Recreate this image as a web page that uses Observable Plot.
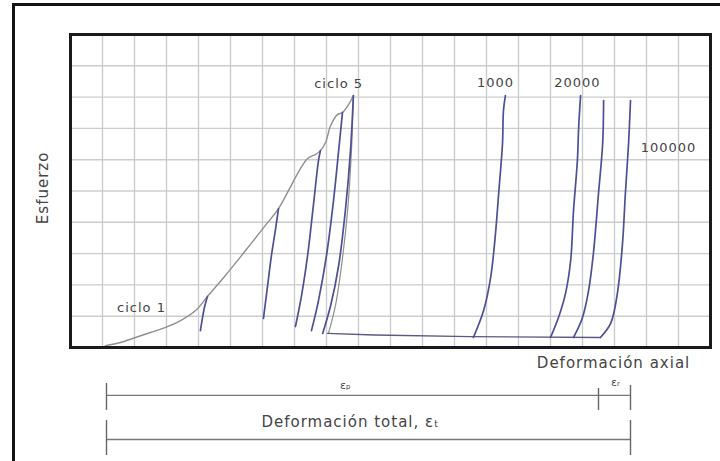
<!DOCTYPE html>
<html>
<head>
<meta charset="utf-8">
<script src="https://cdn.jsdelivr.net/npm/d3@7"></script>
<script src="https://cdn.jsdelivr.net/npm/@observablehq/plot@0.6"></script>
<style>
  html, body { margin: 0; padding: 0; background: #fff; width: 720px; height: 461px; overflow: hidden; }
  #wrap { position: relative; width: 720px; height: 461px; }
  #border { position: absolute; left: 12px; top: 3px; width: 720px; height: 470px;
            border-left: 3px solid #111; border-top: 3px solid #111; pointer-events: none; }
  #chart { position: absolute; left: 0; top: 0; }
  .sm text { letter-spacing: 1px; }
  .lg text { letter-spacing: 1px; }
</style>
</head>
<body>
<div id="wrap"><div id="chart"></div><div id="border"></div></div>
<script>
// ---- data (grid units: x = axial deformation, y = stress) ----
const gridX = d3.range(0, 21);
const gridY = d3.range(0, 11);

// loading envelope (first loading + successive peaks up to cycle 5)
const envelopeX = [1.09, 1.56, 2.03, 2.5, 2.97, 3.44, 3.91, 4.28, 4.84, 5.47, 6.09, 6.5, 6.78, 7.19, 7.41, 7.66, 7.81, 7.97, 8.13, 8.34, 8.5, 8.69, 8.84];
const envelopeY = [0.06, 0.16, 0.32, 0.48, 0.64, 0.86, 1.18, 1.63, 2.30, 3.10, 3.90, 4.44, 4.95, 5.72, 6.04, 6.17, 6.29, 6.55, 7.09, 7.44, 7.51, 7.76, 8.05];

// reloading branches of the early cycles
const cycle1X = [4.06, 4.12, 4.19, 4.28];
const cycle1Y = [0.54, 0.92, 1.30, 1.63];
const cycle2X = [6.03, 6.16, 6.28, 6.41, 6.5];
const cycle2Y = [0.93, 1.98, 2.94, 3.80, 4.44];
const cycle3X = [7.03, 7.22, 7.41, 7.59, 7.75, 7.81];
const cycle3Y = [0.67, 1.66, 2.94, 4.54, 5.97, 6.29];
const cycle4X = [7.53, 7.75, 8.0, 8.22, 8.38, 8.5];
const cycle4Y = [0.54, 1.50, 2.94, 4.70, 6.29, 7.51];
const cycle5X = [7.88, 8.13, 8.38, 8.59, 8.75, 8.84];
const cycle5Y = [0.45, 1.34, 2.62, 4.38, 6.29, 8.05];
const unload5X = [8.84, 8.78, 8.66, 8.47, 8.28, 8.06];
const unload5Y = [8.05, 6.29, 4.38, 2.62, 1.34, 0.45];

// permanent deformation baseline
const baseX = [8.03, 9.5, 12.5, 16.56];
const baseY = [0.45, 0.40, 0.35, 0.32];

// later cycles
const c1000X = [12.59, 12.91, 13.13, 13.28, 13.38, 13.5, 13.53, 13.59];
const c1000Y = [0.32, 1.18, 2.24, 3.63, 4.92, 6.52, 7.57, 8.05];
const c20000X = [15.0, 15.25, 15.47, 15.63, 15.72, 15.84, 15.88, 15.94];
const c20000Y = [0.32, 0.96, 1.73, 2.78, 4.38, 5.97, 7.03, 8.05];
const c50000X = [15.72, 16.0, 16.19, 16.34, 16.5, 16.63, 16.66];
const c50000Y = [0.32, 0.96, 1.82, 3.0, 4.92, 6.52, 7.89];
const c100000X = [16.56, 16.88, 17.09, 17.25, 17.34, 17.44, 17.5];
const c100000Y = [0.32, 0.77, 1.73, 3.32, 4.92, 6.52, 7.89];

// labels
const labelText = ["ciclo 1", "ciclo 5", "1000", "20000", "100000"];
const labelX = [2.22, 8.38, 13.28, 15.84, 18.69];
const labelY = [1.28, 8.43, 8.47, 8.47, 6.39];

// dimension lines below the chart
const dimStart = 1.125, dimSplit = 16.5, dimEnd = 17.5;
const dimRowY = [-1.53, -2.94];

const toPts = (xs, ys) => xs.map((x, i) => ({x, y: ys[i]}));
const blue = "#4f4f96";
const grey = "#8f8f8f";
const txt = "#444";

const blueCurves = [
  [cycle1X, cycle1Y], [cycle2X, cycle2Y], [cycle3X, cycle3Y], [cycle4X, cycle4Y],
  [cycle5X, cycle5Y], [c1000X, c1000Y], [c20000X, c20000Y], [c50000X, c50000Y], [c100000X, c100000Y]
];

const font = "DejaVu Sans, Liberation Sans, sans-serif";

const chart = Plot.plot({
  width: 720,
  height: 461,
  marginLeft: 70,
  marginRight: 10,
  marginTop: 34,
  marginBottom: 114,
  x: {domain: [0, 20], axis: null},
  y: {domain: [0, 10], axis: null},
  style: {fontFamily: font, background: "transparent"},
  marks: [
    Plot.ruleX(gridX, {x: d => d, y1: 0, y2: 10, stroke: "#cccccc", strokeWidth: 1.4}),
    Plot.ruleY(gridY, {y: d => d, x1: 0, x2: 20, stroke: "#cccccc", strokeWidth: 1.4}),
    Plot.line(toPts(envelopeX, envelopeY), {x: "x", y: "y", stroke: grey, strokeWidth: 1.4, curve: "catmull-rom"}),
    Plot.line(toPts(unload5X, unload5Y), {x: "x", y: "y", stroke: grey, strokeWidth: 1.2, curve: "catmull-rom"}),
    Plot.line(toPts(baseX, baseY), {x: "x", y: "y", stroke: "#5a5a80", strokeWidth: 1.3}),
    ...blueCurves.map(([xs, ys]) =>
      Plot.line(toPts(xs, ys), {x: "x", y: "y", stroke: blue, strokeWidth: 1.7, curve: "catmull-rom"})),
    Plot.frame({stroke: "#1a1a1a", strokeWidth: 3}),
    Plot.text(labelText, {x: (d, i) => labelX[i], y: (d, i) => labelY[i], text: d => d,
      fill: txt, fontSize: 13, className: "sm"}),
    Plot.text(["Deformación axial"], {x: 16.97, y: -0.51, text: d => d, fill: txt, fontSize: 15, className: "lg"}),
    Plot.text(["Esfuerzo"], {x: -0.86, y: 5.1, text: d => d, fill: txt, fontSize: 15, rotate: -90, className: "lg"}),
    // dimension lines
    Plot.ruleY([dimRowY[0]], {y: d => d, x1: dimStart, x2: dimEnd, stroke: "#777", strokeWidth: 1.4}),
    Plot.ruleY([dimRowY[1]], {y: d => d, x1: dimStart, x2: dimEnd, stroke: "#777", strokeWidth: 1.4}),
    Plot.ruleX([dimStart, dimSplit, dimEnd], {x: d => d, y1: d => d === dimSplit ? -1.31 : (d === dimEnd ? -1.21 : -1.15), y2: -2.01, stroke: "#666", strokeWidth: 1.4}),
    Plot.ruleX([dimStart, dimEnd], {x: d => d, y1: -2.33, y2: -3.45, stroke: "#666", strokeWidth: 1.4}),
    Plot.text(["εₚ"], {x: 8.59, y: -1.2, text: d => d, fill: txt, fontSize: 11}),
    Plot.text(["εᵣ"], {x: 17.03, y: -1.12, text: d => d, fill: txt, fontSize: 11}),
    Plot.text(["Deformación total, εₜ"], {x: 8.75, y: -2.4, text: d => d, fill: txt, fontSize: 15, className: "lg"})
  ]
});
document.getElementById("chart").appendChild(chart);
</script>
</body>
</html>
